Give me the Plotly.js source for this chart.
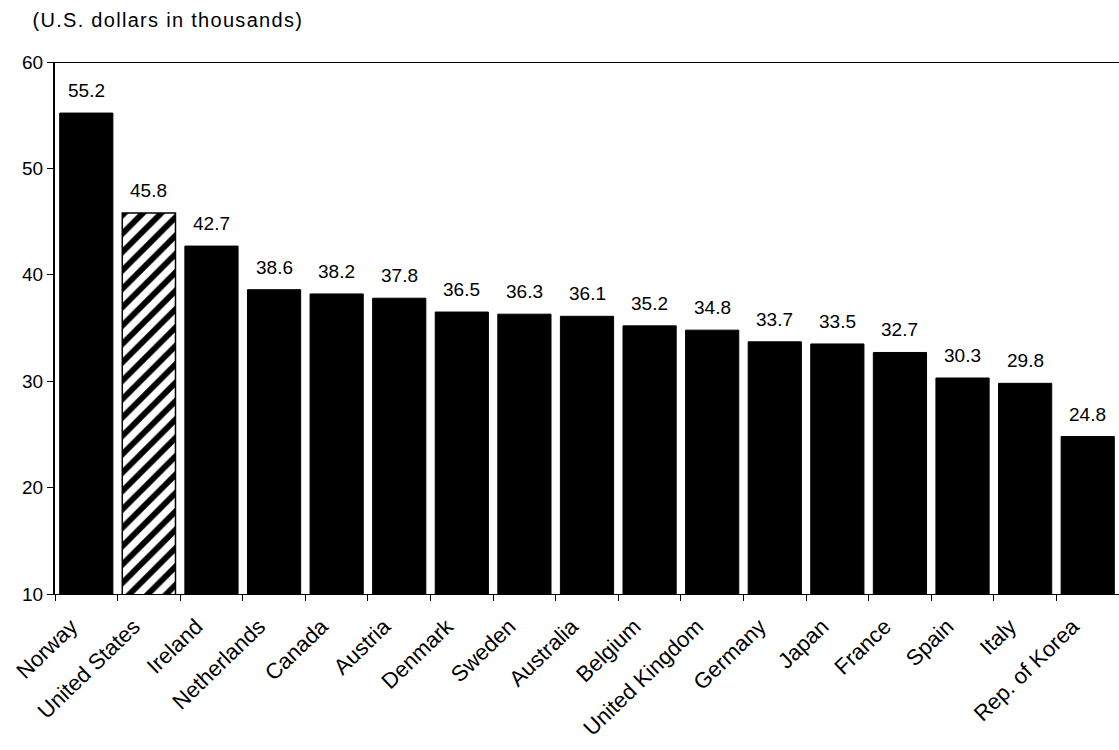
<!DOCTYPE html>
<html>
<head>
<meta charset="utf-8">
<script src="https://cdn.plot.ly/plotly-3.0.1.min.js"></script>
<style>
html,body{margin:0;padding:0;background:#fff}
#chart{width:1119px;height:750px}
#chart .gtitle{letter-spacing:1.3px}
</style>
</head>
<body>
<div id="chart"></div>
<script>
var countries = ["Norway","United States","Ireland","Netherlands","Canada","Austria","Denmark","Sweden","Australia","Belgium","United Kingdom","Germany","Japan","France","Spain","Italy","Rep. of Korea"];
var values = [55.2,45.8,42.7,38.6,38.2,37.8,36.5,36.3,36.1,35.2,34.8,33.7,33.5,32.7,30.3,29.8,24.8];
var highlight = ["United States"];
var yTicks = [10,20,30,40,50,60];
var unitLabel = "(U.S. dollars in thousands)";

var FONT = "Liberation Sans, Arial, sans-serif";
var isHi = countries.map(function(c){return highlight.indexOf(c) >= 0;});

var solid = {
  type: "bar",
  x: countries,
  y: values.map(function(v, i){return isHi[i] ? null : v;}),
  marker: {color: "#000000", line: {color: "#000000", width: 1}},
  hoverinfo: "skip"
};
var hatched = {
  type: "bar",
  x: countries,
  y: values.map(function(v, i){return isHi[i] ? v : null;}),
  marker: {
    color: "#ffffff",
    line: {color: "#000000", width: 1.5},
    pattern: {shape: "/", fgcolor: "#000000", bgcolor: "#ffffff", size: 13, solidity: 0.45, fillmode: "replace"}
  },
  hoverinfo: "skip"
};

var annotations = countries.map(function(c, i){
  return {
    x: c, y: values[i], xref: "x", yref: "y",
    text: values[i].toFixed(1), showarrow: false,
    yanchor: "bottom", yshift: 10,
    font: {family: FONT, size: 19, color: "#000"}
  };
});

var layout = {
  width: 1119, height: 750,
  margin: {l: 55, r: 0, t: 62, b: 156, pad: 0},
  paper_bgcolor: "#fff", plot_bgcolor: "#fff",
  showlegend: false,
  barmode: "overlay",
  bargap: 0.15,
  title: {
    text: unitLabel, xref: "container", yref: "container",
    x: 0.029, xanchor: "left", y: 0.973, yanchor: "middle",
    font: {family: FONT, size: 20, color: "#000"}
  },
  xaxis: {
    type: "category",
    showline: true, linecolor: "#000", linewidth: 1,
    ticks: "outside", ticklen: 6, tickwidth: 1, tickcolor: "#000",
    tickson: "boundaries",
    tickangle: -44,
    ticklabelstandoff: 10,
    ticklabelshift: -15,
    tickfont: {family: FONT, size: 22, color: "#000"},
    showgrid: false, zeroline: false, fixedrange: true
  },
  yaxis: {
    range: [10, 60],
    tickvals: yTicks,
    ticktext: yTicks.map(String),
    showline: true, linecolor: "#000", linewidth: 2,
    ticks: "outside", ticklen: 6, tickwidth: 1, tickcolor: "#000",
    tickfont: {family: FONT, size: 19, color: "#000"},
    showgrid: false, zeroline: false, fixedrange: true
  },
  shapes: [{
    type: "line", xref: "paper", yref: "y",
    x0: 0, x1: 1, y0: 60, y1: 60,
    line: {color: "#000", width: 2}
  }],
  annotations: annotations
};

Plotly.newPlot("chart", [solid, hatched], layout, {displayModeBar: false, staticPlot: true});
</script>
</body>
</html>
